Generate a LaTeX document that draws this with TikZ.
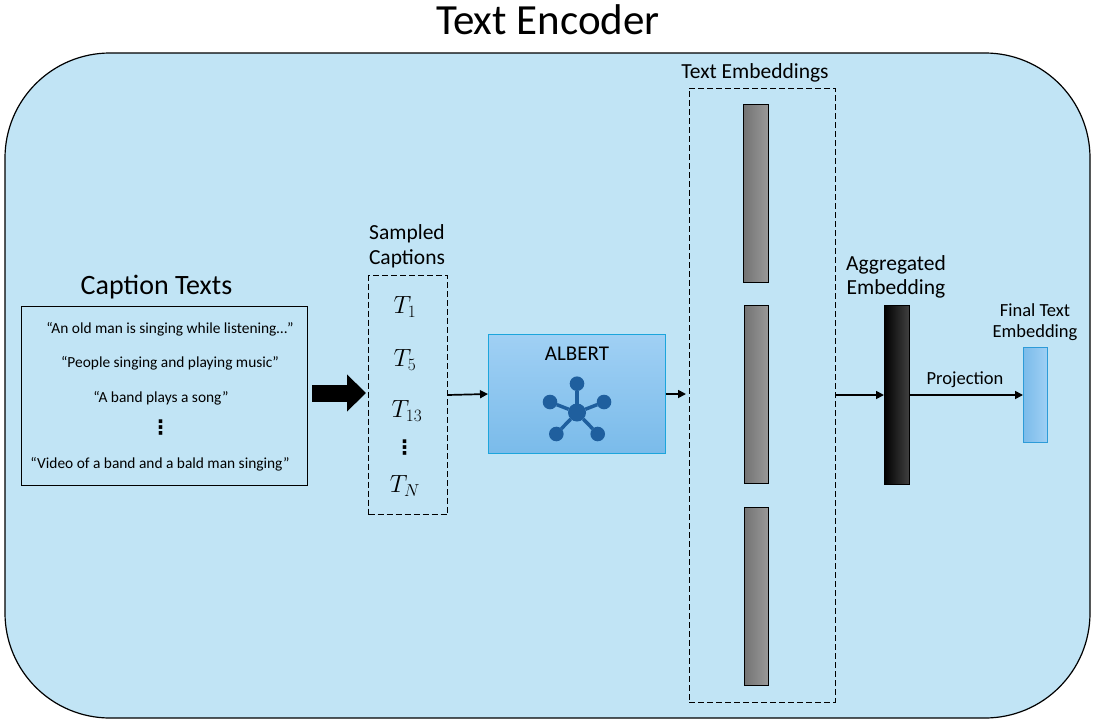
\documentclass[tikz,border=0pt]{standalone}
\usepackage{fontspec}
\setmainfont{Carlito}
\newfontfamily\symfont{DejaVu Sans Bold}
\usetikzlibrary{positioning}
\usetikzlibrary{arrows.meta}
\definecolor{panelblue}{HTML}{C1E4F5}
\definecolor{albertedge}{HTML}{1CA5DC}
\definecolor{alberttop}{HTML}{A0D0F4}
\definecolor{albertbottom}{HTML}{7ABBEA}
\definecolor{netblue}{HTML}{1F5F9E}
\definecolor{finaledge}{HTML}{2D9BD8}
\tikzset{
    blockbox/.style={draw=black, line width=1pt, inner sep=0pt, outer sep=0pt},
    groupbox/.style={blockbox, dashed, dash pattern=on 6pt off 3pt},
    flowarrow/.style={line width=1.7pt, -{Triangle[length=8pt, width=8pt]}},
    embedbar/.style={blockbox, minimum width=24.5pt, minimum height=178pt, left color=black!55, right color=black!40},
    quotetext/.style={font=\fontsize{15.4}{17}\selectfont, inner sep=0pt},
    labeltext/.style={font=\fontsize{21.5}{24.5}\selectfont, align=center, inner sep=0pt},
    symtext/.style={font=\fontsize{25}{28}\selectfont, inner sep=0pt},
    dotstext/.style={font=\fontsize{20}{24}\selectfont\symfont, inner sep=0pt},
    netdot/.style={circle, fill=netblue, minimum size=14.6pt, inner sep=0pt, outer sep=0pt},
}
\begin{document}
\begin{tikzpicture}[x=1pt, y=-1pt]
    \useasboundingbox (0,0) rectangle (1095,723);
    \node[draw=black, line width=1.2pt, fill=panelblue, rounded corners=105pt, minimum width=1085pt, minimum height=665pt, inner sep=0pt, outer sep=0pt] (panel) at (547.5,385.5) {};
    \node[font=\fontsize{43}{48}\selectfont, inner sep=0pt] (title) at (548,20) {Text Encoder};

    % caption texts
    \node[blockbox, minimum width=285.5pt, minimum height=178.5pt] (captions) at (164.25,395.75) {};
    \node[font=\fontsize{28}{32}\selectfont, inner sep=0pt] (captionstitle) at (156.5,287) {Caption Texts};
    \node[quotetext] (quoteA) at (170,329) {“An old man is singing while listening…”};
    \node[quotetext] (quoteB) at (170,363) {“People singing and playing music”};
    \node[quotetext] (quoteC) at (161,398) {“A band plays a song”};
    \node[dotstext] (quotedots) at (160.5,428) {⋮};
    \node[quotetext] (quoteD) at (160,464) {“Video of a band and a bald man singing”};

    % sampled captions
    \node[groupbox, minimum width=79pt, minimum height=239pt] (sampled) at (408,395) {};
    \node[labeltext] (sampledtitle) at (407,246.5) {Sampled\\Captions};
    \node[symtext] (tA) at (405,307) {$T_1$};
    \node[symtext] (tB) at (405,360) {$T_5$};
    \node[symtext] (tC) at (407,411) {$T_{13}$};
    \node[dotstext] (dotsT) at (404.5,447.5) {⋮};
    \node[symtext] (tN) at (405,486) {$T_N$};

    % albert block
    \node[draw=albertedge, line width=1pt, top color=alberttop, bottom color=albertbottom, inner sep=0pt, outer sep=0pt, minimum width=177.5pt, minimum height=119pt] (albert) at (576.75,394) {};
    \node[labeltext, font=\fontsize{21}{24}\selectfont] (alberttitle) at (577,354) {ALBERT};
    \node[netdot, minimum size=18pt] (hub) at (577,412.5) {};
    \foreach \name/\px/\py in {netA/577/383.7, netB/550/402, netC/604/402, netD/556.3/434, netE/597.7/434} {
        \node[netdot] (\name) at (\px,\py) {};
        \draw[netblue, line width=3.5pt] (hub) -- (\name);
    }

    % text embeddings
    \node[groupbox, minimum width=146pt, minimum height=614pt] (embeds) at (762,395) {};
    \node[labeltext] (embedstitle) at (755,73) {Text Embeddings};
    \node[embedbar] (barA) at (755.75,193) {};
    \node[embedbar] (barB) at (756.5,394) {};
    \node[embedbar] (barC) at (756.25,596) {};

    % aggregated and final embedding
    \node[blockbox, minimum width=25pt, minimum height=178.5pt, left color=black, middle color=black, right color=black!75] (aggregated) at (896.5,395) {};
    \node[labeltext] (aggregatedtitle) at (896,277) {Aggregated\\Embedding};
    \node[draw=finaledge, line width=1pt, left color=albertbottom, right color=alberttop, inner sep=0pt, outer sep=0pt, minimum width=24.5pt, minimum height=95.5pt] (final) at (1035.25,395) {};
    \node[labeltext, font=\fontsize{18.5}{21}\selectfont] (finaltitle) at (1035,322.5) {Final Text\\Embedding};
    \node[labeltext, font=\fontsize{18.5}{21}\selectfont] (projection) at (965,380) {Projection};

    \draw[line width=17pt, -{Triangle[length=19pt, width=36pt]}, shorten >=2.5pt, shorten <=5pt] ([yshift=2.75pt]captions.east) -- ([yshift=2pt]sampled.west);
    \draw[flowarrow] (sampled.east) -- (albert.west);
    \draw[flowarrow, shorten >=3pt] (albert.east) -- (albert.east -| embeds.west);
    \draw[flowarrow] (embeds.east) -- (aggregated.west);
    \draw[flowarrow] (aggregated.east) -- (final.west);
\end{tikzpicture}
\end{document}
